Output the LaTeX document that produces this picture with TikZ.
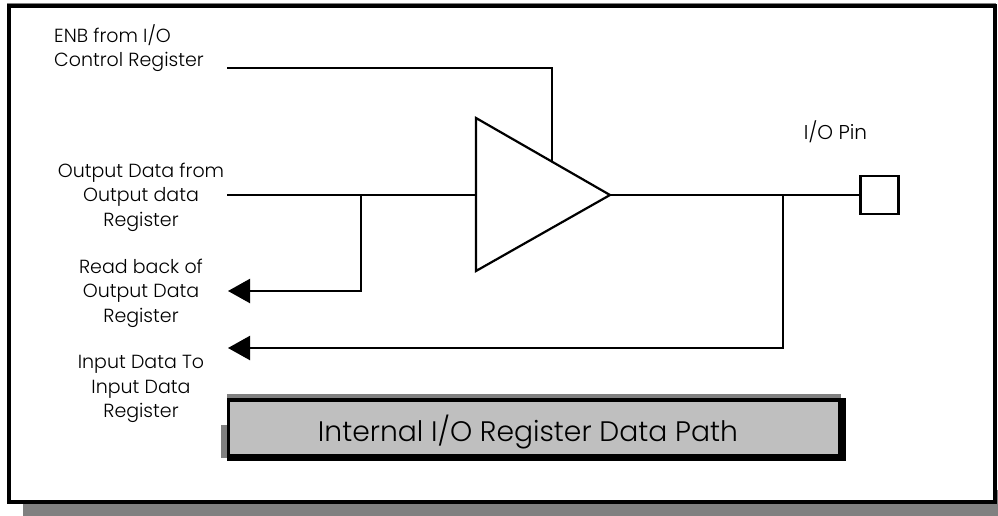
\documentclass[tikz,border=0pt]{standalone}
\usepackage{fontspec}
\setmainfont{Poppins Light}
\usetikzlibrary{arrows.meta}
\tikzset{
  wire/.style={line width=2.2pt,line cap=butt,line join=miter},
  arrowwire/.style={wire,-{Triangle[length=22pt,width=24pt]}},
  lbl/.style={inner sep=0pt,font=\fontsize{19}{24.5}\selectfont},
  lblc/.style={lbl,align=center,anchor=center},
  lbll/.style={lbl,align=left,anchor=north west},
}
\begin{document}
\begin{tikzpicture}[x=1pt,y=-1pt]
\useasboundingbox (0,0) rectangle (998,516);
% outer frame with shadow
\fill[black!50] (23,490) rectangle (998,516);
\fill[black!50] (7,3) rectangle (996,8);
\draw[line width=4pt,fill=white] (9,6.5) rectangle (995,502);
% labels
\node[lbll] (enb) at (54,24) {ENB from I/O\\Control Register};
\node[lblc] (outd) at (141,197) {Output Data from\\Output data\\Register};
\node[lblc] (rb) at (141,293) {Read back of\\Output Data\\Register};
\node[lblc] (ind) at (141,389) {Input Data To\\Input Data\\Register};
\node[lbl,anchor=center,font=\fontsize{20}{24.5}\selectfont] (pinl) at (835.5,132) {I/O Pin};
% free ends of connectors
\coordinate (enbs) at (227,68);
\coordinate (outs) at (227,195);
\coordinate (rbe) at (228,291);
\coordinate (inde) at (228,348);
% buffer
\coordinate (ta) at (476,118);
\coordinate (tb) at (476,271);
\coordinate (tc) at (610,195);
\coordinate (tin) at (476,195);
\coordinate (ten) at (552,161);
\draw[wire,line join=miter] (ta) -- (tc) -- (tb) -- cycle;
% pin
\node[draw,line width=2.2pt,minimum size=38pt,inner sep=0pt,anchor=center] (pin) at (879.5,195) {};
% junctions
\coordinate (j1) at (361,195);
\coordinate (j2) at (783,195);
% connectors
\draw[wire] (enbs) -| (ten);
\draw[wire] (outs) -- (tin);
\draw[wire] (tc) -- (pin.west);
\draw[arrowwire] (j1) |- (rbe);
\draw[arrowwire] (j2) |- (inde);
% title box
\fill[black!50] (227,394) rectangle (841,400);
\fill[black!50] (221,425) rectangle (228,458);
\fill[black] (227,398) rectangle (846,461);
\node[fill=black!25,minimum width=608pt,minimum height=52pt,inner sep=0pt,anchor=north west] (titlebox) at (230,402) {};
\node[inner sep=0pt,anchor=center,font=\fontsize{28.2}{34}\selectfont] (title) at (528,432) {Internal I/O Register Data Path};
\end{tikzpicture}
\end{document}
